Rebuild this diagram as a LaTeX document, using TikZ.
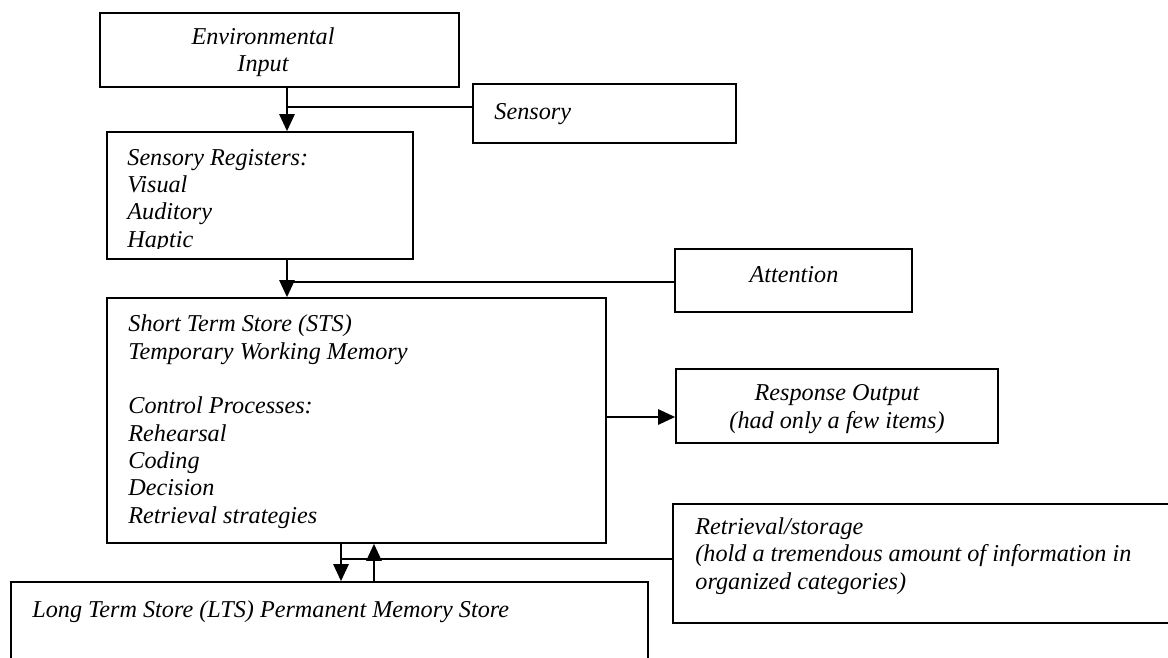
\documentclass[tikz,border=0pt]{standalone}
\usepackage{fontspec}
\setmainfont{Liberation Serif}
\usetikzlibrary{arrows.meta,fit}

\tikzset{
  box/.style={draw, line width=0.8pt, inner sep=0pt},
  txt/.style={font=\fontsize{12.1}{13.65}\selectfont\itshape, inner sep=0pt},
  link/.style={line width=0.9pt},
  flow/.style={line width=1.3pt, -{Triangle[length=8.5pt,width=7.5pt]}}
}

\begin{document}
\begin{tikzpicture}[x=0.5pt, y=-0.5pt]
  \useasboundingbox (0,0) rectangle (1168,658);
  %\draw[help lines, step=50] (0,0) grid (1168,658);

  % boxes
  \node[box, fit={(100,13) (459,87)}] (envin) {};
  \node[box, fit={(473,84) (736,143)}] (sensory) {};
  \node[box, fit={(107,132) (413,259)}] (sreg) {};
  \node[box, fit={(675,249) (912,312)}] (attn) {};
  \node[box, fit={(107,298) (606,543)}] (sts) {};
  \node[box, fit={(676,369) (998,443)}] (resp) {};
  \node[box, fit={(673,504) (1180,623)}] (retr) {};
  \node[box, fit={(11,582) (648,680)}] (lts) {};

  % texts (base = last line)
  \node[txt, align=center, anchor=base] (envin-t) at (263,72) {Environmental\\Input};
  \node[txt, anchor=base west] (sensory-t) at (494,120) {Sensory};
  \begin{scope}
    \clip (107,132) rectangle (413,248);
    \node[txt, align=left, anchor=base west] (sreg-t) at (127,247)
      {Sensory Registers:\\Visual\\Auditory\\Haptic};
  \end{scope}
  \node[txt, anchor=base] (attn-t) at (794,282) {Attention};
  \node[txt, align=left, anchor=base west] (sts-t) at (128,523)
    {Short Term Store (STS)\\Temporary Working Memory\\[13.65pt]
     Control Processes:\\Rehearsal\\Coding\\Decision\\Retrieval strategies};
  \node[txt, align=center, anchor=base] (resp-t) at (837,428)
    {Response Output\\(had only a few items)};
  \node[txt, align=left, anchor=base west] (retr-t) at (695,589)
    {Retrieval/storage\\(hold a tremendous amount of information in\\organized categories)};
  \node[txt, anchor=base west] (lts-t) at (32,617)
    {Long Term Store (LTS) Permanent Memory Store};

  % connectors
  \coordinate (j1) at (287,107);
  \coordinate (j2) at (287,282);
  \coordinate (j3) at (606,417);
  \coordinate (j4) at (341,559);
  \coordinate (j5) at (374,559);

  \draw[flow] (envin.south -| j1) -- (sreg.north -| j1);
  \draw[link] (j1) -- (j1 -| sensory.west);
  \draw[flow] (sreg.south -| j2) -- (sts.north -| j2);
  \draw[link] (j2) -- (j2 -| attn.west);
  \draw[flow] (j3) -- (j3 -| resp.west);
  \draw[flow] (sts.south -| j4) -- (lts.north -| j4);
  \draw[flow] (lts.north -| j5) -- (sts.south -| j5);
  \draw[link] (j4) -- (j4 -| retr.west);
\end{tikzpicture}
\end{document}
